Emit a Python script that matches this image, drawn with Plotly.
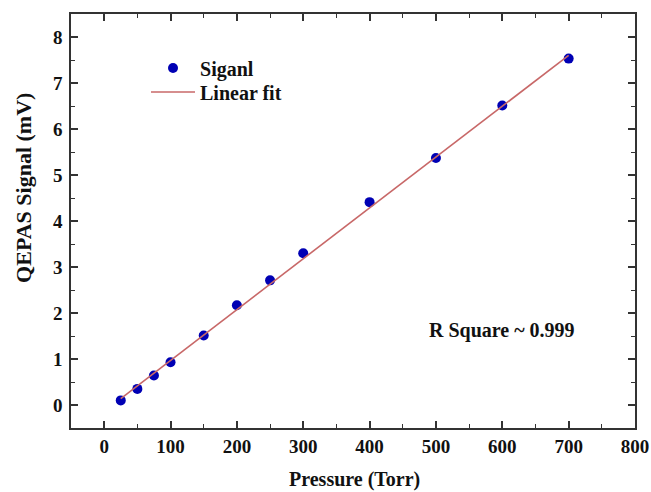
import plotly.graph_objects as go

pressure = [25, 50, 75, 100, 150, 200, 250, 300, 400, 500, 600, 700]
signal = [0.10, 0.35, 0.64, 0.93, 1.51, 2.17, 2.71, 3.30, 4.41, 5.37, 6.51, 7.53]
fit_x = [25, 700]
fit_y = [0.14, 7.60]
x_ticks = [0, 100, 200, 300, 400, 500, 600, 700, 800]
y_ticks = [0, 1, 2, 3, 4, 5, 6, 7, 8]

FONT = "Liberation Serif"
INK = "#111111"

def f(size):
    return dict(family=FONT, size=size, color=INK, weight="bold")

fig = go.Figure()
fig.add_trace(go.Scatter(
    x=pressure, y=signal, mode="markers", name="Siganl", legend="legend",
    marker=dict(color="#0000B4", size=10, line=dict(width=0)),
))
fig.add_trace(go.Scatter(
    x=fit_x, y=fit_y, mode="lines", name="Linear fit", legend="legend2",
    line=dict(color="#C86868", width=1.6),
))

axis_common = dict(
    showgrid=False, zeroline=False, showline=True, linecolor="#333333",
    linewidth=1.6, mirror="ticks", ticks="inside", tickcolor="#333333",
    tickwidth=1.6, ticklen=7, automargin=False,
    tickfont=f(19),
)

leg_common = dict(
    xanchor="left", yanchor="middle", bgcolor="rgba(0,0,0,0)", borderwidth=0,
    font=f(20), itemwidth=44,
)

fig.update_layout(
    width=651, height=492,
    margin=dict(l=71, r=16, t=14, b=64),
    paper_bgcolor="white", plot_bgcolor="white",
    font=f(19),
    showlegend=True,
    legend=dict(x=0.133, y=0.8696, **leg_common),
    legend2=dict(x=0.133, y=0.8116, **leg_common),
    xaxis=dict(
        range=[-50, 800], tickvals=x_ticks,
        minor=dict(dtick=50, ticks="inside", ticklen=4, tickcolor="#333333", tickwidth=1.4),
        ticklabelstandoff=0,
        **axis_common,
    ),
    yaxis=dict(
        range=[-0.5, 8.5], tickvals=y_ticks,
        minor=dict(dtick=0.5, ticks="inside", ticklen=4, tickcolor="#333333", tickwidth=1.4),
        ticklabelstandoff=3,
        **axis_common,
    ),
    annotations=[
        dict(x=600, y=1.62, xref="x", yref="y", text="R Square ~ 0.999",
             showarrow=False, font=f(20)),
        dict(x=0.502, y=-0.1256, xref="paper", yref="paper", text="Pressure (Torr)",
             showarrow=False, font=f(20), xanchor="center", yanchor="middle"),
        dict(x=-0.0833, y=0.58, xref="paper", yref="paper", text="QEPAS Signal (mV)",
             showarrow=False, font=f(22), textangle=-90, xanchor="center", yanchor="middle"),
    ],
)

fig.write_html("out.html")
